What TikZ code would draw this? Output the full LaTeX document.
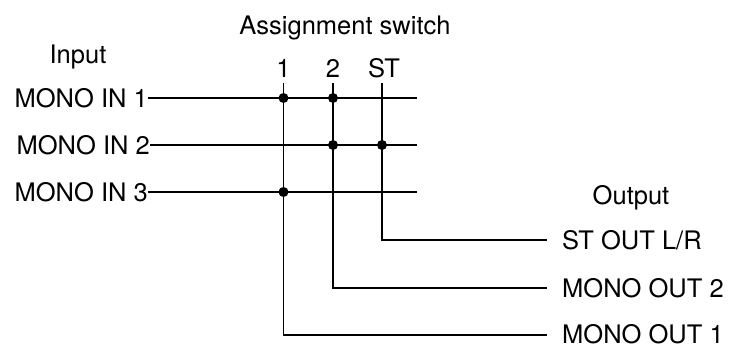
\documentclass[tikz,border=0pt]{standalone}
\usepackage{fontspec}
\setmainfont{TeX Gyre Heros}
\begin{document}
\begin{tikzpicture}[x=1pt,y=-1pt,
  lbl/.style={font=\fontsize{25.5}{30}\selectfont, inner sep=0pt},
  wire/.style={line width=1.8pt},
  jdot/.style={circle, fill=black, inner sep=0pt, minimum size=10pt}]
\useasboundingbox (0,0) rectangle (730,347);
% labels
\node[lbl] (assign) at (345,28) {Assignment switch};
\node[lbl] (input) at (78,57) {Input};
\node[lbl] (s1) at (283.5,68) {1};
\node[lbl] (s2) at (333,68) {2};
\node[lbl] (sst) at (384,68) {ST};
\node[lbl,anchor=east] (in1) at (148,98) {MONO IN 1};
\node[lbl,anchor=east] (in2) at (150,145) {MONO IN 2};
\node[lbl,anchor=east] (in3) at (148,192) {MONO IN 3};
\node[lbl] (output) at (631,198) {Output};
\node[lbl,anchor=west] (ost) at (562,240) {ST OUT L/R};
\node[lbl,anchor=west] (o2) at (562,288) {MONO OUT 2};
\node[lbl,anchor=west] (o1) at (562,334.5) {MONO OUT 1};
% coordinates
\coordinate (e1) at (417,98);
\coordinate (e2) at (417,145);
\coordinate (e3) at (417,192);
\coordinate (t1) at (283.5,83);
\coordinate (t2) at (333,83);
\coordinate (t3) at (382,83);
\coordinate (b1) at (283.5,335);
\coordinate (b2) at (333,288);
\coordinate (b3) at (382,240);
\coordinate (f1) at (547,335);
\coordinate (f2) at (547,288);
\coordinate (f3) at (547,240);
% wires
\draw[wire] (in1.east) -- (e1);
\draw[wire] (in2.east) -- (e2);
\draw[wire] (in3.east) -- (e3);
\draw[wire] (t1) -- (b1) -- (f1);
\draw[wire] (t2) -- (b2) -- (f2);
\draw[wire] (t3) -- (b3) -- (f3);
% junctions
\node[jdot] (j11) at (283.5,98) {};
\node[jdot] (j12) at (333,98) {};
\node[jdot] (j22) at (333,145) {};
\node[jdot] (j23) at (382,145) {};
\node[jdot] (j31) at (283.5,192) {};
\end{tikzpicture}
\end{document}
